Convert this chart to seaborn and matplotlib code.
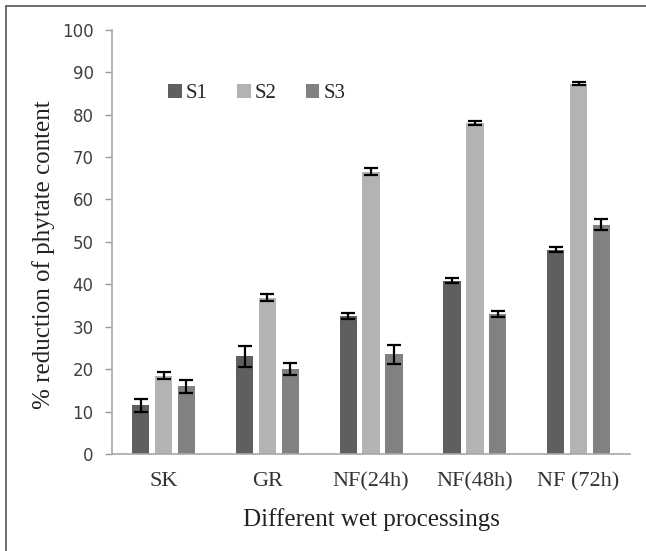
import pandas as pd
import matplotlib.pyplot as plt
import seaborn as sns
from matplotlib.lines import Line2D

# data
processings = ["SK", "GR", "NF(24h)", "NF(48h)", "NF (72h)"]
series = ["S1", "S2", "S3"]
s1_vals = [11.5, 23.0, 32.5, 40.8, 48.2]
s2_vals = [18.5, 36.8, 66.5, 78.0, 87.3]
s3_vals = [16.0, 20.0, 23.5, 33.0, 54.0]
s1_err = [1.5, 2.4, 0.7, 0.6, 0.6]
s2_err = [0.8, 0.8, 0.8, 0.5, 0.3]
s3_err = [1.5, 1.4, 2.3, 0.8, 1.3]

colors = ["#5f5f5f", "#b3b3b3", "#818181"]

rows = []
for name, vals in zip(series, [s1_vals, s2_vals, s3_vals]):
    for p, v in zip(processings, vals):
        rows.append({"processing": p, "series": name, "value": v})
df = pd.DataFrame(rows)

sns.set_style("white")
plt.rcParams["font.family"] = ["Liberation Serif", "DejaVu Serif"]

fig = plt.figure(figsize=(6.46, 5.51), dpi=100)
ax = fig.add_axes([0.173, 0.176, 0.803, 0.770])

sns.barplot(data=df, x="processing", y="value", hue="series", palette=colors,
            width=0.66, gap=0.24, errorbar=None, saturation=1, ax=ax,
            edgecolor="none")

# error bars on each bar
errs = [s1_err, s2_err, s3_err]
for cont, err in zip(ax.containers, errs):
    xs = [b.get_x() + b.get_width() / 2 for b in cont]
    hs = [b.get_height() for b in cont]
    ax.errorbar(xs, hs, yerr=err, fmt="none", ecolor="black", elinewidth=1.6,
                capsize=5, capthick=1.6, zorder=5)

ax.set_ylim(0, 100)
ax.set_xlim(-0.5, 4.5)
ax.set_yticks(range(0, 101, 10))
ax.set_yticklabels([str(v) for v in range(0, 101, 10)], family="DejaVu Sans",
                   fontsize=12, color="#404040")
ax.set_xticks(range(5))
ax.set_xticklabels(processings, fontsize=16, color="#333333")
ax.set_xticks([-0.5, 0.5, 1.5, 2.5, 3.5, 4.5], minor=True)
ax.tick_params(axis="x", which="major", length=0, pad=13)
ax.tick_params(axis="x", which="minor", length=5, color="#9a9a9a", width=1, direction="out")
ax.tick_params(axis="y", length=5, color="#9a9a9a", width=1, direction="out", left=True, pad=8)

for side in ["top", "right"]:
    ax.spines[side].set_visible(False)
for side in ["left", "bottom"]:
    ax.spines[side].set_color("#a8a8a8")
    ax.spines[side].set_linewidth(1.2)

ax.set_xlabel("Different wet processings", fontsize=18, labelpad=12, color="#222222")
ax.set_ylabel("% reduction of phytate content", fontsize=18, color="#222222")
ax.yaxis.set_label_coords(-0.11, 0.47)

ax.legend(loc="center", bbox_to_anchor=(0.28, 0.85), ncol=3, frameon=False,
          handlelength=0.65, handleheight=0.65, handletextpad=0.2,
          columnspacing=1.4, fontsize=15, title=None)

# frame of the original picture (left and top edges)
fig.add_artist(Line2D([0.009, 0.009], [0.0, 0.989], color="#555555", lw=1.2))
fig.add_artist(Line2D([0.009, 1.0], [0.989, 0.989], color="#555555", lw=1.2))

fig.savefig("out.png", dpi=100)
